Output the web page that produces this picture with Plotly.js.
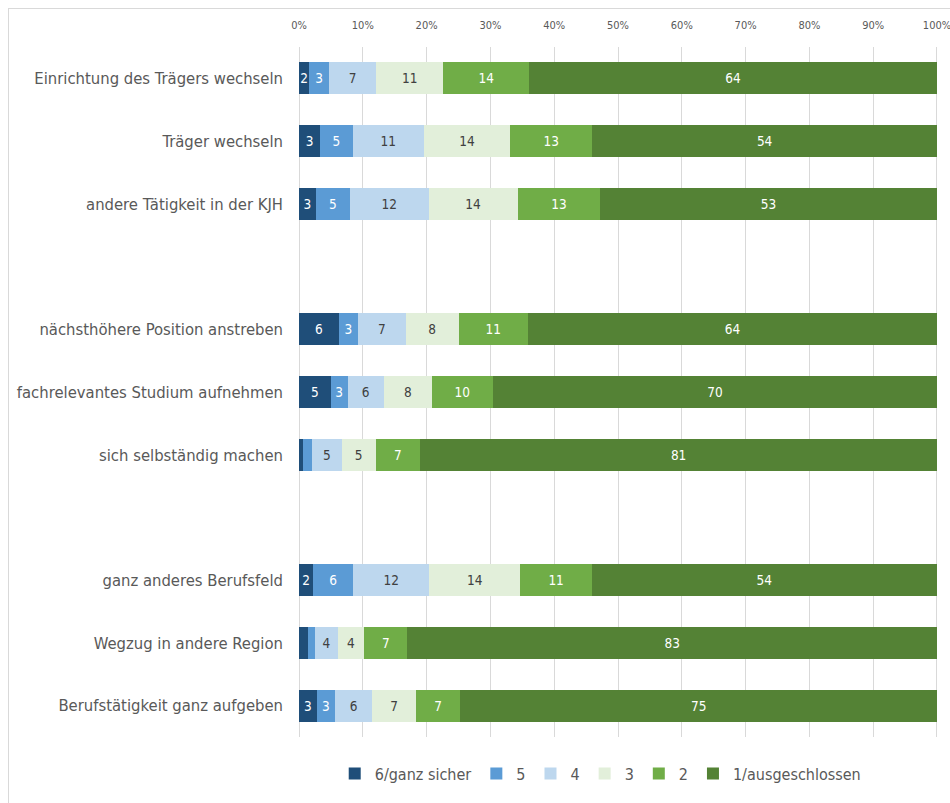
<!DOCTYPE html>
<html>
<head>
<meta charset="utf-8">
<script src="https://cdn.plot.ly/plotly-3.0.1.min.js"></script>
<style>
  html, body { margin: 0; padding: 0; width: 950px; height: 803px; overflow: hidden; background: #fff; }
  #frame { position: absolute; left: 8px; top: 8px; width: 960px; height: 820px; border: 1px solid #d9d9d9; box-sizing: border-box; }
  #chart { position: absolute; left: 0; top: 0; width: 950px; height: 803px; }
</style>
</head>
<body>
<div id="frame"></div>
<div id="chart"></div>
<script>
// Categories (blank entries are the gaps between groups)
const categories = [
  "Einrichtung des Trägers wechseln",
  "Träger wechseln",
  "andere Tätigkeit in der KJH",
  " ",
  "nächsthöhere Position anstreben",
  "fachrelevantes Studium aufnehmen",
  "sich selbständig machen",
  "  ",
  "ganz anderes Berufsfeld",
  "Wegzug in andere Region",
  "Berufstätigkeit ganz aufgeben"
];

const seriesNames = ["6/ganz sicher", "5", "4", "3", "2", "1/ausgeschlossen"];

// Percent shares per series (null for gap rows)
const s6 = [1.6, 3.3, 2.6, null, 6.2, 5.0, 0.6, null, 2.2, 1.4, 2.8];
const s5 = [3.1, 5.1, 5.4, null, 3.1, 2.6, 1.4, null, 6.3, 1.1, 2.8];
const s4 = [7.4, 11.2, 12.3, null, 7.4, 5.7, 4.7, null, 11.9, 3.6, 5.9];
const s3 = [10.5, 13.5, 14.0, null, 8.3, 7.5, 5.3, null, 14.3, 4.1, 6.8];
const s2 = [13.5, 12.9, 12.9, null, 10.9, 9.6, 7.0, null, 11.2, 6.8, 7.0];
const s1 = [63.9, 54.0, 52.8, null, 64.1, 69.6, 81.0, null, 54.1, 83.0, 74.7];

const tickVals = [0, 10, 20, 30, 40, 50, 60, 70, 80, 90, 100];
const tickText = ["0%", "10%", "20%", "30%", "40%", "50%", "60%", "70%", "80%", "90%", "100%"];

const colors = ["#1F4E79", "#5B9BD5", "#BDD7EE", "#E2EFDA", "#70AD47", "#548235"];
const textColors = ["#ffffff", "#ffffff", "#404040", "#404040", "#ffffff", "#ffffff"];
const allSeries = [s6, s5, s4, s3, s2, s1];

const FONT = "'Liberation Sans Narrow', 'DejaVu Sans Condensed', 'Liberation Sans', sans-serif";

const traces = allSeries.map((vals, i) => ({
  type: "bar",
  orientation: "h",
  name: seriesNames[i],
  y: categories,
  x: vals,
  text: vals.map(v => (v !== null && v >= 1.5) ? String(Math.round(v)) : ""),
  textposition: "inside",
  insidetextanchor: "middle",
  textangle: 0,
  constraintext: "none",
  textfont: { family: FONT, size: 13.5, color: textColors[i] },
  marker: { color: colors[i], line: { width: 0 } },
  hoverinfo: "name+x"
}));

const layout = {
  width: 950,
  height: 803,
  barmode: "stack",
  bargap: 0.49,
  paper_bgcolor: "rgba(0,0,0,0)",
  plot_bgcolor: "rgba(0,0,0,0)",
  margin: { l: 298, r: 12, t: 47, b: 64 },
  font: { family: FONT, color: "#595959" },
  showlegend: true,
  legend: {
    orientation: "h",
    x: 0.473, xanchor: "center",
    y: -0.053, yanchor: "middle",
    font: { family: FONT, size: 16, color: "#595959" },
    traceorder: "normal",
    itemwidth: 30,
    tracegroupgap: 0
  },
  xaxis: {
    side: "top",
    range: [-0.16, 100.16],
    tickvals: tickVals,
    ticktext: tickText,
    showgrid: true,
    gridcolor: "#d9d9d9",
    gridwidth: 1,
    zeroline: false,
    showline: false,
    ticks: "",
    ticklabelstandoff: 15,
    ticklabeloverflow: "allow",
    tickfont: { family: FONT, size: 11, color: "#595959" },
    fixedrange: true
  },
  yaxis: {
    type: "category",
    autorange: "reversed",
    showgrid: false,
    zeroline: false,
    showline: false,
    ticks: "",
    ticklabelstandoff: 14,
    tickfont: { family: FONT, size: 16.5, color: "#595959" },
    fixedrange: true
  }
};

Plotly.newPlot("chart", traces, layout, { displayModeBar: false, staticPlot: true });
</script>
</body>
</html>
